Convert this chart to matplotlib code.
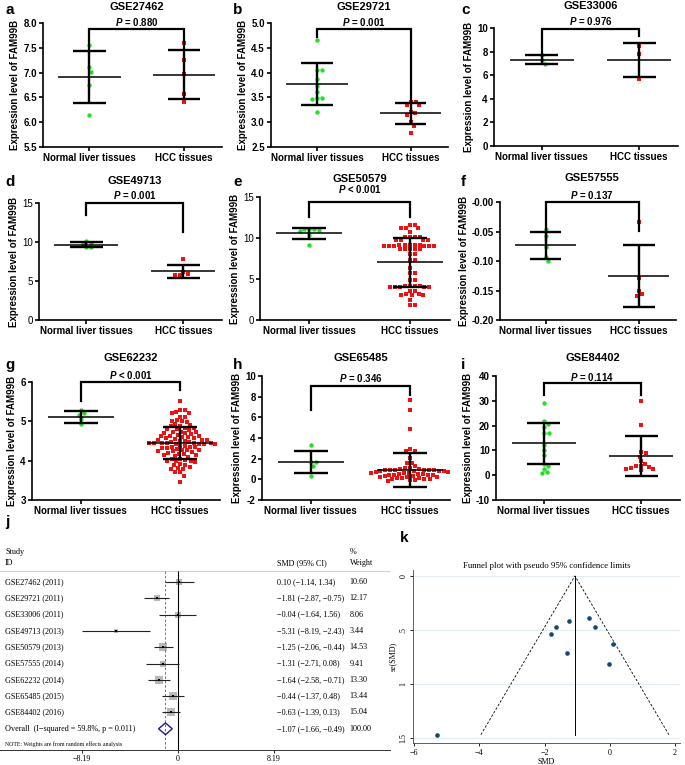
import numpy as np
import matplotlib
matplotlib.use('Agg')
import matplotlib.pyplot as plt
from matplotlib.transforms import blended_transform_factory
from matplotlib.patches import Polygon

W, H = 685, 765

# ---------------- scatter panels a-i ----------------
datasets = ['GSE27462', 'GSE29721', 'GSE33006', 'GSE49713', 'GSE50579',
            'GSE57555', 'GSE62232', 'GSE65485', 'GSE84402']
letters = ['a', 'b', 'c', 'd', 'e', 'f', 'g', 'h', 'i']
p_texts = ['= 0.880', '= 0.001', '= 0.976', '= 0.001', '< 0.001',
           '= 0.137', '< 0.001', '= 0.346', '= 0.114']
groups = ['Normal liver tissues', 'HCC tissues']

a_normal = [7.55, 7.11, 7.02, 6.74, 6.14]
a_hcc = [7.60, 7.25, 6.98, 6.57, 6.40]
b_normal = [4.65, 4.05, 4.05, 3.88, 3.73, 3.61, 3.49, 3.49, 3.46, 3.21]
b_hcc = [3.41, 3.41, 3.34, 3.34, 3.21, 3.19, 3.14, 3.00, 2.93, 2.78]
c_normal = [7.73, 7.25, 6.94]
c_hcc = [8.44, 7.79, 5.67]
d_normal = [10.1, 9.7, 9.3, 9.3, 9.9]
d_hcc = [7.77, 5.94, 5.72, 5.72, 6.19]
e_normal = [11.1, 11.1, 11.0, 10.9, 11.1, 10.4, 9.2]
e_hcc = [11.6, 11.6, 11.2, 11.2, 11.2, 10.7, 10.1, 10.1, 10.1, 10.1,
         9.7, 9.7, 9.7, 9.7, 9.2, 9.2, 9.2, 9.2, 9.2, 9.0, 9.0, 9.0, 9.0,
         9.0, 9.0, 8.6, 8.6, 8.6, 8.6, 8.6, 8.0, 8.0, 7.3, 7.3, 6.3, 5.7,
         5.7, 4.9, 4.9, 4.2, 4.2, 4.2, 4.2, 4.0, 4.0, 4.0, 4.0, 4.0, 3.5,
         3.5, 3.2, 3.2, 3.0, 3.0, 3.0, 2.4, 1.8, 1.8]
f_normal = [-0.045, -0.057, -0.077, -0.093, -0.100]
f_hcc = [-0.034, -0.129, -0.150, -0.159, -0.156]
g_normal = [5.29, 5.20, 5.17, 5.05, 4.92]
g_hcc = [5.52, 5.30, 5.28, 5.24, 5.22, 5.20, 5.12, 5.10, 5.03, 5.02, 5.00,
         4.98, 4.92, 4.90, 4.88, 4.87, 4.84, 4.82, 4.80, 4.80, 4.78, 4.74,
         4.72, 4.72, 4.70, 4.70, 4.68, 4.65, 4.63, 4.62, 4.62, 4.60, 4.60,
         4.58, 4.58, 4.55, 4.53, 4.52, 4.52, 4.50, 4.50, 4.48, 4.47, 4.46,
         4.45, 4.45, 4.45, 4.44, 4.44, 4.43, 4.43, 4.42, 4.42, 4.38, 4.37,
         4.36, 4.35, 4.34, 4.33, 4.32, 4.30, 4.28, 4.27, 4.26, 4.25, 4.24,
         4.22, 4.20, 4.18, 4.16, 4.15, 4.14, 4.12, 4.10, 4.05, 4.04, 4.02,
         4.00, 4.00, 3.98, 3.96, 3.92, 3.90, 3.88, 3.85, 3.82, 3.80, 3.78,
         3.72, 3.70, 3.62, 3.46]
h_normal = [3.35, 1.65, 1.65, 1.26, 0.35]
h_hcc = [7.65, 6.70, 4.85, 2.92, 2.72, 2.70, 2.05, 1.62, 1.55, 1.25, 1.10,
         1.05, 1.00, 0.98, 0.95, 0.95, 0.92, 0.90, 0.90, 0.88, 0.85, 0.85,
         0.82, 0.80, 0.75, 0.70, 0.65, 0.62, 0.60, 0.55, 0.52, 0.50, 0.45,
         0.42, 0.40, 0.38, 0.35, 0.30, 0.25, 0.22, 0.20, 0.15, 0.12, 0.10,
         0.05, 0.02, 0.00, -0.05, -0.10, -0.15]
i_normal = [29.0, 21.8, 20.6, 19.4, 17.2, 17.0, 12.3, 10.2, 8.0, 4.5, 3.6,
            2.5, 1.2, 0.8]
i_hcc = [30.0, 20.3, 9.3, 8.8, 7.5, 5.7, 4.5, 3.8, 3.8, 3.2, 3.0, 2.7, 2.7,
         1.9]

normal_sets = [a_normal, b_normal, c_normal, d_normal, e_normal, f_normal,
               g_normal, h_normal, i_normal]
hcc_sets = [a_hcc, b_hcc, c_hcc, d_hcc, e_hcc, f_hcc, g_hcc, h_hcc, i_hcc]

normal_mean = [6.91, 3.77, 7.33, 9.67, 10.55, -0.0735, 5.11, 1.68, 12.9]
normal_sd = [0.53, 0.415, 0.415, 0.30, 0.72, 0.0233, 0.15, 1.05, 8.3]
hcc_mean = [6.96, 3.18, 7.27, 6.27, 7.02, -0.1255, 4.45, 0.92, 7.7]
hcc_sd = [0.495, 0.21, 1.43, 0.83, 3.0, 0.052, 0.41, 1.65, 8.0]

# ---------------- meta-analysis (j, k) ----------------
studies = ['GSE27462 (2011)', 'GSE29721 (2011)', 'GSE33006 (2011)',
           'GSE49713 (2013)', 'GSE50579 (2013)', 'GSE57555 (2014)',
           'GSE62232 (2014)', 'GSE65485 (2015)', 'GSE84402 (2016)']
smd = [0.10, -1.81, -0.04, -5.31, -1.25, -1.31, -1.64, -0.44, -0.63]
ci_low = [-1.14, -2.87, -1.64, -8.19, -2.06, -2.71, -2.58, -1.37, -1.39]
ci_high = [1.34, -0.75, 1.56, -2.43, -0.44, 0.08, -0.71, 0.48, 0.13]
weights = [10.60, 12.17, 8.06, 3.44, 14.53, 9.41, 13.30, 13.44, 15.04]
overall = (-1.07, -1.66, -0.49)
overall_label = 'Overall  (I\u2212squared = 59.8%, p = 0.011)'

# ---------------- layout ----------------
plt.rcParams['font.family'] = 'Liberation Sans'
plt.rcParams['axes.unicode_minus'] = False
plt.rcParams['mathtext.fontset'] = 'custom'
plt.rcParams['mathtext.it'] = 'Liberation Sans:italic:bold'
plt.rcParams['mathtext.rm'] = 'Liberation Sans:bold'

# left, top, right, bottom in pixels
rects = [(43, 23, 222, 147), (271, 23, 448, 147), (494, 28, 678, 146),
         (39, 203, 222, 320), (260, 197, 450, 320), (500, 202, 676, 320),
         (32, 382, 220, 500), (262, 376, 450, 500), (496, 376, 680, 500)]
ylims = [(5.5, 8.0), (2.5, 5.0), (0, 10), (0, 15), (0, 15), (-0.20, 0.0),
         (3, 6), (-2, 10), (-10, 40)]
yticks = [np.arange(5.5, 8.01, 0.5), np.arange(2.5, 5.01, 0.5),
          np.arange(0, 10.1, 2), np.arange(0, 15.1, 5), np.arange(0, 15.1, 5),
          np.arange(-0.20, 0.001, 0.05), np.arange(3, 6.1, 1),
          np.arange(-2, 10.1, 2), np.arange(-10, 40.1, 10)]
yfmt = ['{:.1f}', '{:.1f}', '{:.0f}', '{:.0f}', '{:.0f}', '{:.2f}', '{:.0f}',
        '{:.0f}', '{:.0f}']
# bracket: top, left leg end, right leg end
brackets = [(7.88, 7.40, 7.46), (4.87, 4.72, 3.40), (9.9, 7.9, 9.35),
            (15.0, 13.5, 11.3), (14.35, 12.55, 12.55), (0.0, -0.067, -0.049),
            (6.0, 5.51, 5.79), (9.06, 6.7, 8.2), (37.3, 32.3, 32.3)]
title_y = [7, 7, 6, 181, 179, 178, 358, 358, 358]
p_y = [22, 22, 21, 195, 189, 195, 375, 378, 377]
letter_pos = [(5, 10), (233, 10), (461, 10), (5, 182), (233, 182), (461, 182),
              (5, 365), (233, 365), (461, 365)]


def px_rect(l, t, r, b):
    return [l / W, 1 - b / H, (r - l) / W, (b - t) / H]


def swarm(ax, x0, values, dmin=4.6, step=0.5):
    # simple beeswarm in pixel space: nearest free offset from the centre
    vals = np.asarray(values, dtype=float)
    ys = ax.transData.transform(np.column_stack([np.full(len(vals), x0), vals]))[:, 1]
    xpx = ax.transData.transform((1, 0))[0] - ax.transData.transform((0, 0))[0]
    px_list, py_list = [], []
    offs = np.zeros(len(vals))
    for i in np.argsort(-ys):
        px = np.array(px_list)
        py = np.array(py_list)
        k = 0
        while True:
            found = None
            for c in ([0.0] if k == 0 else [k * step, -k * step]):
                if len(px) == 0 or np.all((c - px) ** 2 + (ys[i] - py) ** 2 >= dmin ** 2):
                    found = c
                    break
            if found is not None:
                break
            k += 1
        px_list.append(found)
        py_list.append(ys[i])
        offs[i] = found / xpx
    return x0 + offs


fig = plt.figure(figsize=(W / 100, H / 100), dpi=100)

for n in range(9):
    ax = fig.add_axes(px_rect(*rects[n]))
    ax.set_xlim(-0.49, 1.4)
    ax.set_ylim(*ylims[n])
    for s in ['top', 'right']:
        ax.spines[s].set_visible(False)
    for s in ['left', 'bottom']:
        ax.spines[s].set_linewidth(1.2)
    weight = 'normal' if n in (3, 4) else 'bold'
    ax.set_yticks(yticks[n])
    ax.set_yticklabels([yfmt[n].format(v) for v in yticks[n]], fontweight=weight)
    ax.set_xticks([0, 1])
    ax.set_xticklabels(groups, fontweight='bold')
    ax.tick_params(labelsize=7, width=1.2, length=3, pad=1.5)
    ax.set_ylabel('Expression level of FAM99B', fontsize=7, fontweight='bold', labelpad=2)

    xs = swarm(ax, 0, normal_sets[n])
    ax.scatter(xs, normal_sets[n], s=10, marker='o', color='#22e022', lw=0, zorder=3)
    xs = swarm(ax, 1, hcc_sets[n])
    ax.scatter(xs, hcc_sets[n], s=10, marker='s', color='#ee1111', lw=0, zorder=3)

    for x0, m, sd in [(0, normal_mean[n], normal_sd[n]), (1, hcc_mean[n], hcc_sd[n])]:
        ax.hlines(m, x0 - 0.33, x0 + 0.33, color='k', lw=1.1, zorder=4)
        ax.hlines([m - sd, m + sd], x0 - 0.17, x0 + 0.17, color='k', lw=1.7, zorder=4)
        ax.vlines(x0, m - sd, m + sd, color='k', lw=1.7, zorder=4)

    top, lb, rb = brackets[n]
    ax.plot([0, 0, 1, 1], [lb, top, top, rb], color='k', lw=1.6,
            clip_on=False, solid_joinstyle='miter', zorder=5)

    tr = blended_transform_factory(ax.transData, fig.transFigure)
    ax.text(0.5, 1 - title_y[n] / H, datasets[n], transform=tr, ha='center',
            va='center', fontsize=8, fontweight='bold')
    ax.text(0.5, 1 - p_y[n] / H, r'$P$ ' + p_texts[n], transform=tr, ha='center',
            va='center', fontsize=7, fontweight='bold')
    lx, ly = letter_pos[n]
    fig.text(lx / W, 1 - ly / H, letters[n], fontsize=11, fontweight='bold',
             ha='left', va='center')

# ---------------- j: forest plot ----------------
serif = 'Liberation Serif'
axj = fig.add_axes(px_rect(0, 535, 390, 750))
px_unit = 11.72
row_bottom = 10.3
axj.set_xlim(-178 / px_unit, (390 - 178) / px_unit)
axj.set_ylim(row_bottom, -2.88)
for s in ['top', 'right', 'left']:
    axj.spines[s].set_visible(False)
axj.spines['bottom'].set_linewidth(0.7)
axj.spines['bottom'].set_color('#333333')
axj.set_yticks([])
axj.set_xticks([-8.19, 0, 8.19])
axj.set_xticklabels(['\u22128.19', '0', '8.19'], fontfamily=serif)
axj.tick_params(axis='x', labelsize=5.8, length=2, width=0.6, pad=1.5)

hdr = -0.67
axj.axhline(hdr, color='#cfcfcf', lw=0.8)
axj.vlines(0, hdr, row_bottom, color='k', lw=0.8)
axj.vlines(overall[0], hdr, row_bottom, color='#c8504a', lw=0.7, linestyles=(0, (2.5, 2)))
ytr = blended_transform_factory(axj.transAxes, axj.transData)
fs = 5.9
x_id, x_ci, x_w = 0.013, 0.71, 0.897
axj.text(x_id, -1.84, 'Study', transform=ytr, fontsize=fs, fontfamily=serif, va='center')
axj.text(x_id, -1.17, 'ID', transform=ytr, fontsize=fs, fontfamily=serif, va='center')
axj.text(x_ci, -1.17, 'SMD (95% CI)', transform=ytr, fontsize=fs, fontfamily=serif, va='center')
axj.text(x_w, -1.84, '%', transform=ytr, fontsize=fs, fontfamily=serif, va='center')
axj.text(x_w, -1.17, 'Weight', transform=ytr, fontsize=fs, fontfamily=serif, va='center')

for i in range(len(studies)):
    axj.hlines(i, ci_low[i], ci_high[i], color='#222222', lw=0.8, zorder=2)
    axj.scatter(smd[i], i, s=2.0 * weights[i], marker='s', color='#b8b8b8', lw=0, zorder=1)
    axj.scatter(smd[i], i, s=3, marker='s', color='k', lw=0, zorder=3)
    axj.text(x_id, i, studies[i], transform=ytr, fontsize=fs, fontfamily=serif, va='center')
    ci_txt = '{:.2f} ({:.2f}, {:.2f})'.format(smd[i], ci_low[i], ci_high[i]).replace('-', '\u2212')
    axj.text(x_ci, i, ci_txt, transform=ytr, fontsize=fs, fontfamily=serif, va='center')
    axj.text(x_w, i, '{:.2f}'.format(weights[i]), transform=ytr, fontsize=fs,
             fontfamily=serif, va='center')

k = len(studies)
om, olo, ohi = overall
axj.add_patch(Polygon([(olo, k), (om, k - 0.36), (ohi, k), (om, k + 0.36)],
                      closed=True, fill=False, edgecolor='#1c1c8a', lw=1.0, zorder=4))
axj.text(x_id, k, overall_label, transform=ytr, fontsize=fs, fontfamily=serif, va='center')
axj.text(x_ci, k, '{:.2f} ({:.2f}, {:.2f})'.format(om, olo, ohi).replace('-', '\u2212'),
         transform=ytr, fontsize=fs, fontfamily=serif, va='center')
axj.text(x_w, k, '100.00', transform=ytr, fontsize=fs, fontfamily=serif, va='center')
axj.text(x_id, k + 0.95, 'NOTE: Weights are from random effects analysis', transform=ytr,
         fontsize=4.2, fontfamily=serif, va='center')
fig.text(5 / W, 1 - 522 / H, 'j', fontsize=11, fontweight='bold', va='center')

# ---------------- k: funnel plot ----------------
se = [(hi - lo) / (2 * 1.96) for lo, hi in zip(ci_low, ci_high)]
se_max = max(se)
axk = fig.add_axes(px_rect(413, 570, 680, 743))
axk.set_xlim(-6.03, 2.15)
axk.set_ylim(1.546, -0.055)
for s in ['top', 'right']:
    axk.spines[s].set_visible(False)
for s in ['left', 'bottom']:
    axk.spines[s].set_linewidth(0.6)
    axk.spines[s].set_color('#444444')
axk.set_yticks([0, 0.5, 1, 1.5])
axk.set_yticklabels(['0', '.5', '1', '1.5'], rotation=90, va='center', fontfamily=serif)
axk.set_xticks([-6, -4, -2, 0, 2])
axk.set_xticklabels(['\u22126', '\u22124', '\u22122', '0', '2'], fontfamily=serif)
axk.tick_params(labelsize=5.8, length=2.5, width=0.6, pad=1.5)
axk.yaxis.grid(True, color='#e3ecf0', lw=0.8)
axk.set_axisbelow(True)
axk.plot([om - 1.96 * se_max, om, om + 1.96 * se_max], [se_max, 0, se_max],
         color='k', lw=0.6, dashes=(3, 2))
axk.plot([om, om], [0, se_max], color='k', lw=0.7)
axk.scatter(smd, se, s=11, color='#1a476f', lw=0, zorder=3)
axk.set_xlabel('SMD', fontsize=5.8, fontfamily=serif, labelpad=1)
axk.set_ylabel('se(SMD)', fontsize=5.8, fontfamily=serif, labelpad=2)
axk.set_title('Funnel plot with pseudo 95% confidence limits', fontsize=6.3,
              fontfamily=serif, pad=1.5)
fig.text(400 / W, 1 - 538 / H, 'k', fontsize=11, fontweight='bold', va='center')

fig.savefig('out.png', dpi=100)
